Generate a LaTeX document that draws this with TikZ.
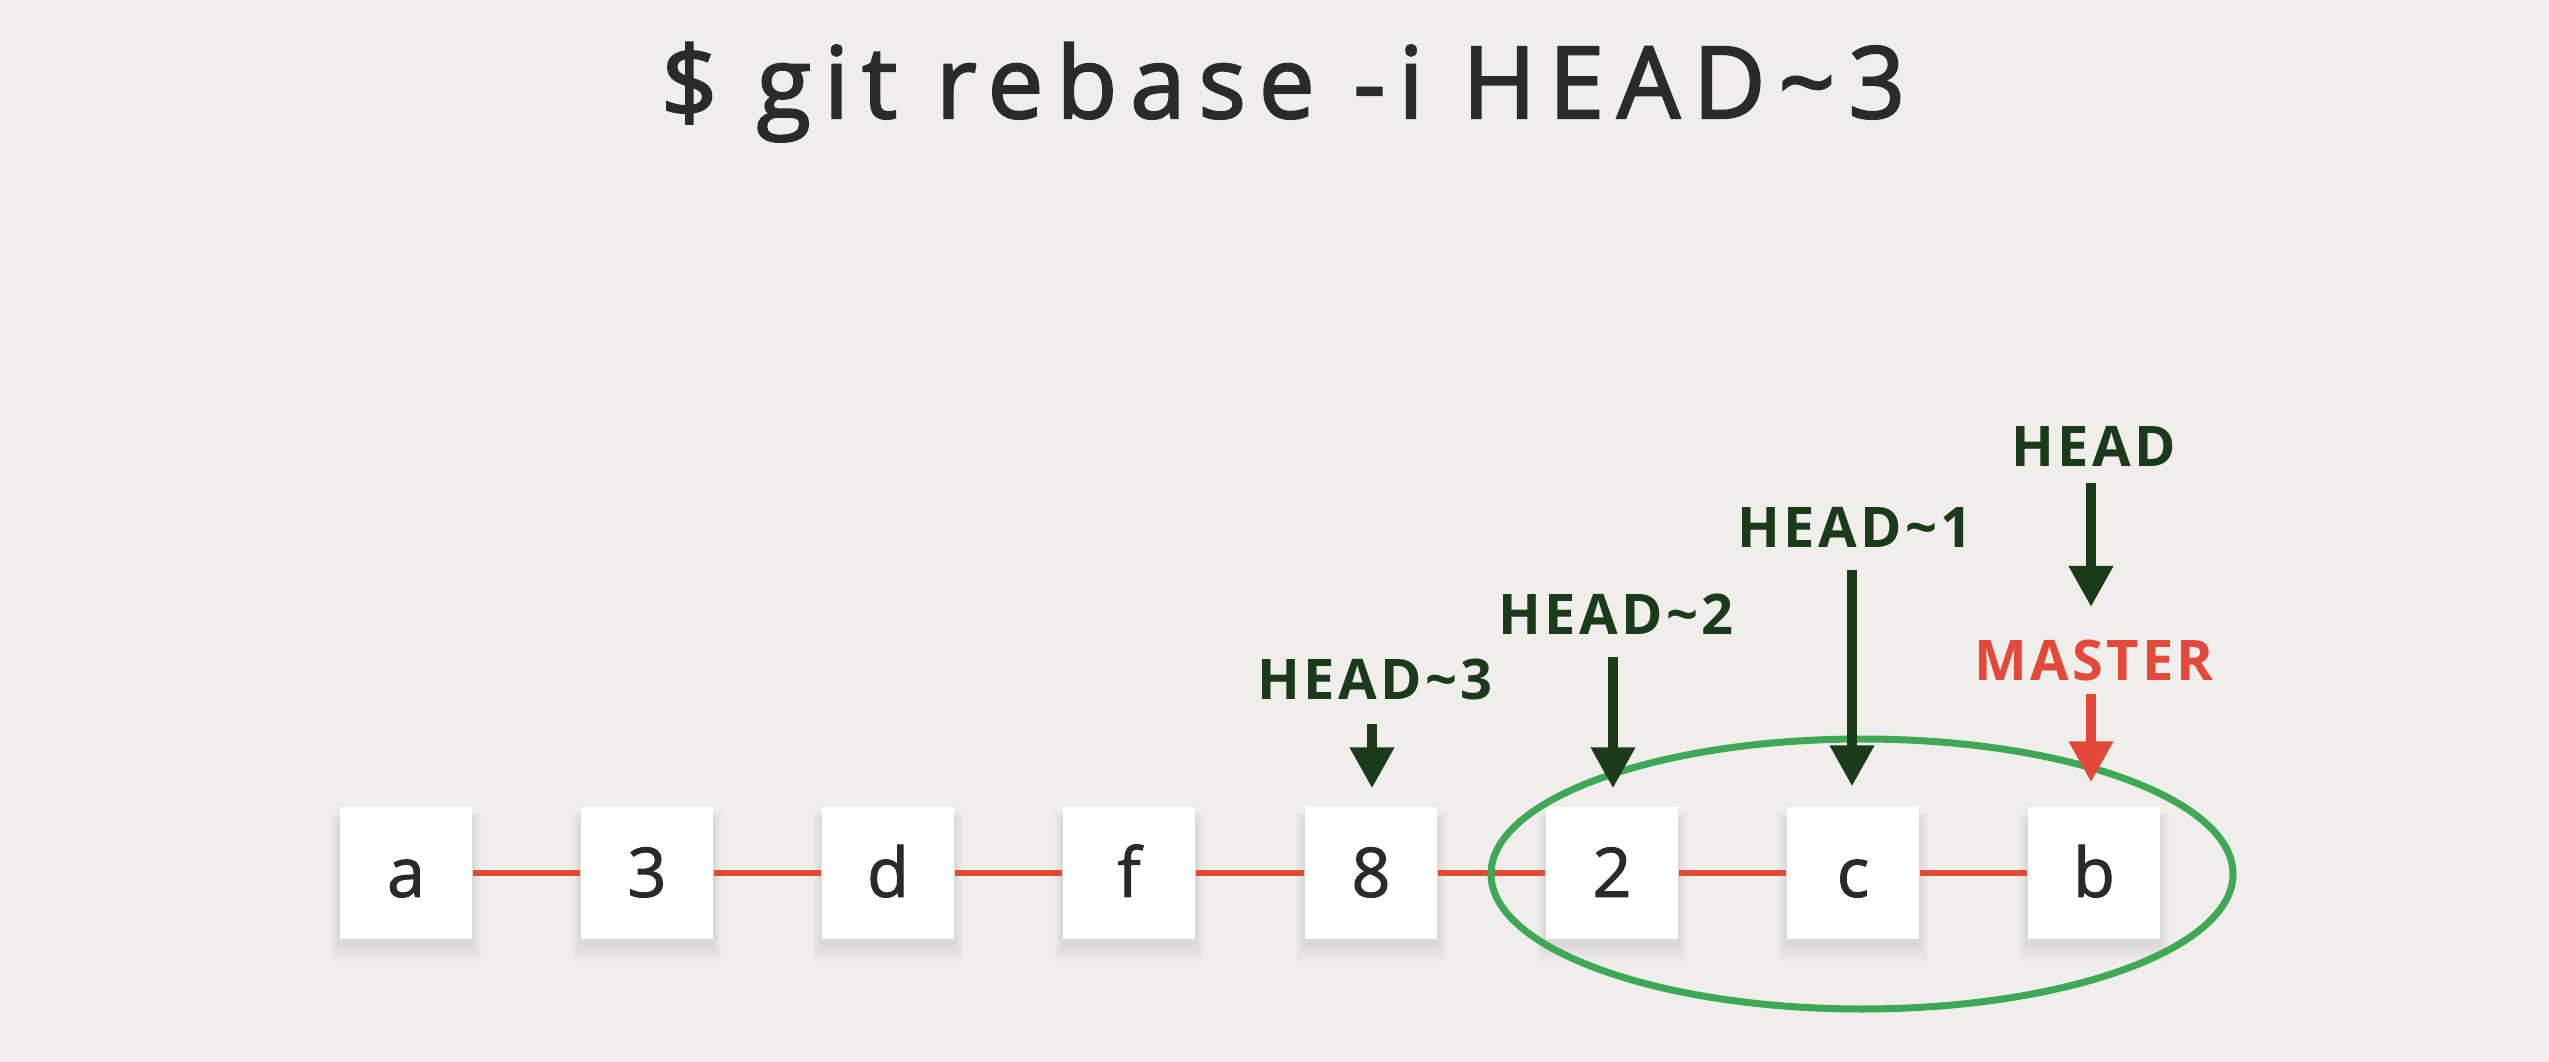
\documentclass[tikz,border=0pt]{standalone}
\usepackage{fontspec}
\setmainfont{Open Sans}
\usetikzlibrary{arrows.meta,calc}

\definecolor{paper}{HTML}{EFEEEA}
\definecolor{ink}{HTML}{2A2A2A}
\definecolor{refgreen}{HTML}{1B3A19}
\definecolor{branchred}{HTML}{E2493A}
\definecolor{linkred}{HTML}{E04B35}
\definecolor{ringgreen}{HTML}{3FA856}

\pgfdeclarelayer{back}
\pgfdeclarelayer{shadow}
\pgfsetlayers{back,shadow,main}

\tikzset{
  commit/.style={fill=white, minimum width=39.6pt, minimum height=39.6pt,
    inner sep=0pt, text=ink, text height=14.3pt, text depth=0pt,
    font=\fontsize{20.5pt}{21pt}\selectfont\addfontfeature{FakeBold=1.5}},
  link/.style={linkred, line width=1.8pt},
  reflabel/.style={anchor=base, text=refgreen, inner sep=0pt,
    font=\fontsize{16.8pt}{17pt}\selectfont\bfseries\addfontfeature{LetterSpace=6}},
  branchlabel/.style={reflabel, text=branchred},
  refarrow/.style={refgreen, line width=3pt,
    -{Triangle[length=12.3pt, width=12.6pt]}},
  brancharrow/.style={refarrow, branchred}
}

\begin{document}
\begin{tikzpicture}[x=0.3pt, y=-0.3pt]
  \begin{pgfonlayer}{back}
    \fill[paper] (0,0) rectangle (2549,1062);
  \end{pgfonlayer}
  \useasboundingbox (0,0) rectangle (2549,1062);

  % command line
  \node[anchor=base, text=ink, inner sep=0pt,
        font=\fontsize{29.85pt}{30pt}\selectfont\addfontfeature{LetterSpace=13,FakeBold=2.2}]
        (title) at (1283,118) {\$ git rebase -i HEAD\textasciitilde3};

  % commits
  \node[commit] (ca) at (406,873)  {a};
  \node[commit] (c3) at (647,873)  {3};
  \node[commit] (cd) at (888,873)  {d};
  \node[commit] (cf) at (1129,873) {f};
  \node[commit] (c8) at (1371,873) {8};
  \node[commit] (c2) at (1612,873) {2};
  \node[commit] (cc) at (1853,873) {c};
  \node[commit] (cb) at (2094,873) {b};

  % soft shadows under the commit cards
  \begin{pgfonlayer}{shadow}
    \foreach \n in {ca,c3,cd,cf,c8,c2,cc,cb}
      \foreach \k in {1,...,7}
        \fill[black, opacity=0.013]
          ($(\n.north west)+(-\k*1.2,14-\k*1.2)$) rectangle
          ($(\n.south east)+(\k*1.2,4+\k*2.5)$);
  \end{pgfonlayer}

  % history links
  \foreach \u/\v in {ca/c3, c3/cd, cd/cf, cf/c8, c8/c2, c2/cc, cc/cb}
    \draw[link] (\u) -- (\v);

  % commits picked for the interactive rebase
  \draw[ringgreen, line width=2.1pt] (1862,874) ellipse [x radius=371, y radius=135];

  % references
  \node[reflabel]    (h3) at (1375,700) {HEAD\textasciitilde3};
  \node[reflabel]    (h2) at (1616,635) {HEAD\textasciitilde2};
  \node[reflabel]    (h1) at (1855,548) {HEAD\textasciitilde1};
  \node[reflabel]    (h0) at (2094,467) {HEAD};
  \node[branchlabel] (ms) at (2094,681) {MASTER};

  \draw[refarrow] ($(h3.base)+(-3,24)$) -- ($(c8.north)+(1,-18)$);
  \draw[refarrow] ($(h2.base)+(-3,22)$) -- ($(c2.north)+(1,-18)$);
  \draw[refarrow] ($(h1.base)+(-3,22)$) -- ($(cc.north)+(-1,-20)$);
  \draw[refarrow] ($(h0.base)+(-3,16)$) -- ($(ms.base)+(-3,-74)$);
  \draw[brancharrow] ($(ms.base)+(-3,13)$) -- ($(cb.north)+(-3,-24)$);
\end{tikzpicture}
\end{document}
